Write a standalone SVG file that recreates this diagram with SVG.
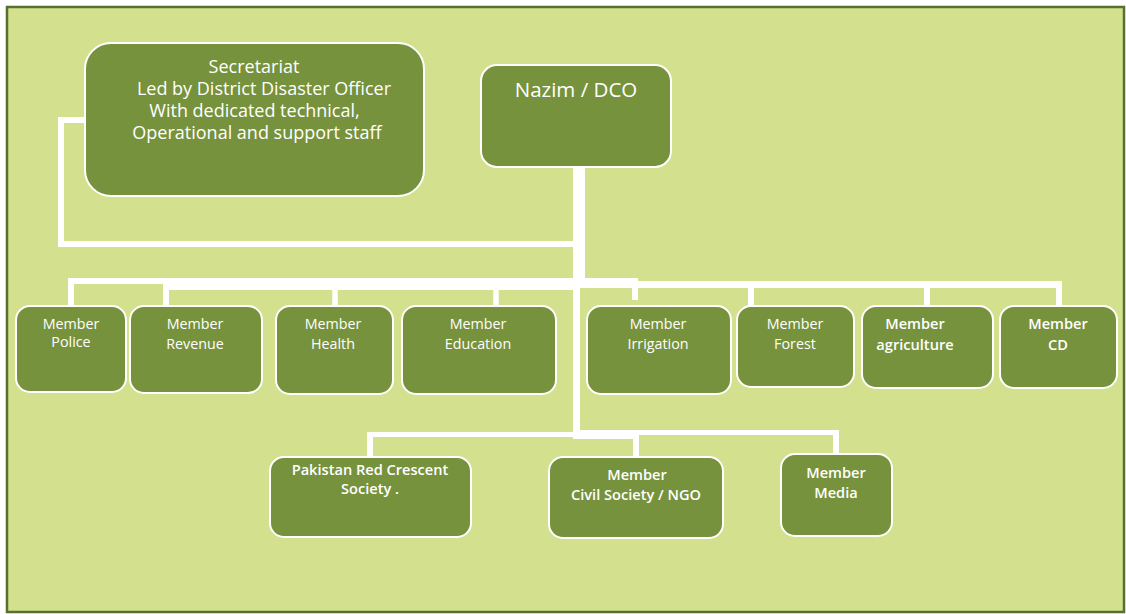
<svg xmlns="http://www.w3.org/2000/svg" width="1126" height="614" viewBox="0 0 1126 614">
<style>
.box{fill:#77923c;stroke:#ffffff;stroke-width:2}
.t{font-family:"Open Sans","Liberation Sans",sans-serif;fill:#ffffff;text-anchor:middle}
.m{font-size:14.3px}
.b{font-size:14.6px;font-weight:600}
.c{fill:none;stroke:#ffffff;stroke-linecap:butt;stroke-linejoin:miter}
</style>
<rect x="7" y="7" width="1117" height="605" fill="#d3e18e" stroke="#58702f" stroke-width="2.5"/>
<g id="connectors" class="c">
  <polyline points="86,120 61,120 61,244 576,244" stroke-width="6"/>
  <line x1="579" y1="166" x2="579" y2="284" stroke-width="12"/>
  <line x1="576.5" y1="280" x2="576.5" y2="439" stroke-width="7"/>
  <line x1="68" y1="281" x2="579" y2="281" stroke-width="6"/>
  <line x1="163" y1="287" x2="576" y2="287" stroke-width="6"/>
  <line x1="573" y1="281" x2="638" y2="281" stroke-width="6"/>
  <line x1="573" y1="284.5" x2="1062" y2="284.5" stroke-width="7"/>
  <line x1="71" y1="278" x2="71" y2="306" stroke-width="6"/>
  <line x1="166" y1="284" x2="166" y2="306" stroke-width="6"/>
  <line x1="335" y1="284" x2="335" y2="306" stroke-width="5.5"/>
  <line x1="496" y1="284" x2="496" y2="306" stroke-width="5.5"/>
  <line x1="635" y1="278" x2="635" y2="300" stroke-width="6"/>
  <line x1="751" y1="281" x2="751" y2="306" stroke-width="6"/>
  <line x1="927" y1="281" x2="927" y2="306" stroke-width="6"/>
  <line x1="1059" y1="281" x2="1059" y2="306" stroke-width="6"/>
  <line x1="367" y1="434.5" x2="579" y2="434.5" stroke-width="5"/>
  <line x1="573" y1="432.5" x2="839" y2="432.5" stroke-width="5"/>
  <line x1="573" y1="437" x2="639" y2="437" stroke-width="4"/>
  <line x1="370" y1="432" x2="370" y2="457" stroke-width="6"/>
  <line x1="636" y1="430" x2="636" y2="457" stroke-width="6"/>
  <line x1="836" y1="430" x2="836" y2="454" stroke-width="6"/>
</g>
<g id="secretariat">
  <rect class="box" x="85" y="43" width="339" height="153" rx="26"/>
  <text class="t" font-size="18" x="254" y="73">Secretariat</text>
  <text class="t" font-size="18" x="264" y="95">Led by District Disaster Officer</text>
  <text class="t" font-size="18" x="254.5" y="117">With dedicated technical,</text>
  <text class="t" font-size="18" x="257" y="139">Operational and support staff</text>
</g>
<g id="nazim">
  <rect class="box" x="481" y="65" width="190" height="102" rx="16"/>
  <text class="t" font-size="20.5" x="576" y="97">Nazim / DCO</text>
</g>
<g id="police">
  <rect class="box" x="16" y="306" width="110" height="86" rx="14"/>
  <text class="t m" x="71" y="329">Member</text>
  <text class="t m" x="71" y="347">Police</text>
</g>
<g id="revenue">
  <rect class="box" x="130" y="306" width="132" height="87" rx="14"/>
  <text class="t m" x="195" y="329">Member</text>
  <text class="t m" x="195" y="349">Revenue</text>
</g>
<g id="health">
  <rect class="box" x="276" y="306" width="117" height="88" rx="14"/>
  <text class="t m" x="333" y="329">Member</text>
  <text class="t m" x="333" y="349">Health</text>
</g>
<g id="education">
  <rect class="box" x="402" y="306" width="154" height="88" rx="14"/>
  <text class="t m" x="478" y="329">Member</text>
  <text class="t m" x="478" y="349">Education</text>
</g>
<g id="irrigation">
  <rect class="box" x="587" y="306" width="144" height="88" rx="14"/>
  <text class="t m" x="658" y="329">Member</text>
  <text class="t m" x="658" y="349">Irrigation</text>
</g>
<g id="forest">
  <rect class="box" x="737" y="306" width="117" height="81" rx="14"/>
  <text class="t m" x="795" y="329">Member</text>
  <text class="t m" x="795" y="349">Forest</text>
</g>
<g id="agriculture">
  <rect class="box" x="862" y="306" width="131" height="82" rx="14"/>
  <text class="t b" x="915" y="329">Member</text>
  <text class="t b" x="915" y="350">agriculture</text>
</g>
<g id="cd">
  <rect class="box" x="1000" y="306" width="117" height="82" rx="14"/>
  <text class="t b" x="1058" y="329">Member</text>
  <text class="t b" x="1058" y="350">CD</text>
</g>
<g id="red-crescent">
  <rect class="box" x="270" y="457" width="201" height="80" rx="14"/>
  <text class="t b" x="370" y="475">Pakistan Red Crescent</text>
  <text class="t b" x="370" y="494">Society .</text>
</g>
<g id="civil-society">
  <rect class="box" x="549" y="457" width="174" height="81" rx="14"/>
  <text class="t b" x="637" y="480">Member</text>
  <text class="t b" x="636" y="500">Civil Society / NGO</text>
</g>
<g id="media">
  <rect class="box" x="781" y="454" width="111" height="82" rx="14"/>
  <text class="t b" x="836" y="478">Member</text>
  <text class="t b" x="836" y="498">Media</text>
</g>
</svg>
